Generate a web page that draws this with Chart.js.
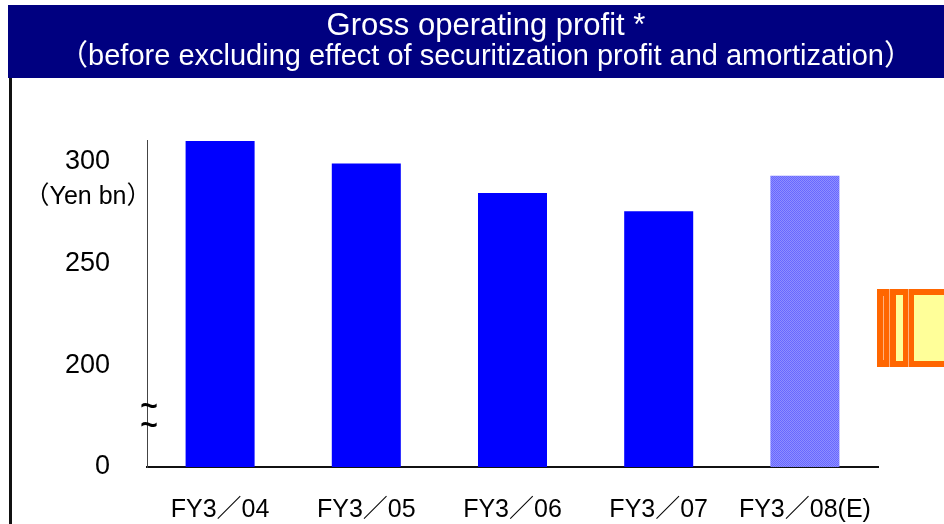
<!DOCTYPE html>
<html><head><meta charset="utf-8">
<script src="https://cdn.jsdelivr.net/npm/chart.js@4.4.1/dist/chart.umd.min.js"></script>
<style>html,body{margin:0;padding:0;background:#fff;overflow:hidden}#wrap{width:944px;height:524px;position:relative}</style>
</head><body><div id="wrap"><canvas id="c" width="944" height="524"></canvas></div>
<script>
const categories = ['FY3／04', 'FY3／05', 'FY3／06', 'FY3／07', 'FY3／08(E)'];
const grossProfit = [310, 299, 284.5, 275.5, 293];
const estimateFlags = [false, false, false, false, true];
const yTickValues = [150, 200, 250, 300];
const yTickLabels = ['0', '200', '250', '300'];
const titleText = 'Gross operating profit *';
const subtitleText = '（before excluding effect of securitization profit and amortization）';
const unitLabel = '（Yen bn）';

const FAMILY = "'Liberation Sans', Arial, 'Noto Sans CJK JP', sans-serif";

function makePattern() {
  const p = document.createElement('canvas');
  p.width = 4; p.height = 4;
  const g = p.getContext('2d');
  g.fillStyle = '#8e8eff'; g.fillRect(0, 0, 4, 4);
  g.fillStyle = '#6868ff';
  for (let i = 0; i < 4; i++) { g.fillRect(i, i, 1, 1); g.fillRect((i + 2) % 4, i, 1, 1); }
  return g.createPattern(p, 'repeat');
}
const estPattern = makePattern();

const decor = {
  id: 'decor',
  beforeDraw(chart) {
    const c = chart.ctx;
    c.save();
    c.fillStyle = '#ffffff'; c.fillRect(0, 0, chart.width, chart.height);
    c.fillStyle = '#000080'; c.fillRect(8, 5, chart.width - 8, 73);
    c.restore();
  },
  afterDraw(chart) {
    const c = chart.ctx;
    const y = chart.scales.y, x = chart.scales.x;
    c.save();
    // left frame line
    c.fillStyle = '#111'; c.fillRect(9, 78, 3, chart.height - 78);
    // unit label
    c.fillStyle = '#000'; c.font = '25px ' + FAMILY;
    c.textAlign = 'center'; c.textBaseline = 'middle';
    c.fillText(unitLabel, 88, y.getPixelForValue(300) + 36);
    // axis break marks
    c.font = 'bold 30px ' + FAMILY;
    c.fillText('~', x.left + 2, y.getPixelForValue(179));
    c.fillText('~', x.left + 2, y.getPixelForValue(170));
    // orange decoration at right edge
    c.fillStyle = '#ff6600'; c.fillRect(877, 289, 67, 78);
    c.fillStyle = '#ffb27f';
    c.fillRect(883, 296, 1, 64);
    c.fillRect(889, 289, 1, 78);
    c.fillRect(908, 289, 1, 78);
    c.fillStyle = '#ffff99';
    c.fillRect(896, 295, 7, 66);
    c.fillRect(914, 295, 30, 66);
    c.restore();
  }
};

new Chart(document.getElementById('c'), {
  type: 'bar',
  data: {
    labels: categories,
    datasets: [{
      data: grossProfit,
      backgroundColor: ctx => estimateFlags[ctx.dataIndex] ? estPattern : '#0000ff',
      borderWidth: 0,
      barPercentage: 0.472,
      categoryPercentage: 1
    }]
  },
  options: {
    responsive: false,
    animation: false,
    devicePixelRatio: 1,
    layout: { padding: { left: 28, right: 0, top: 5, bottom: 0 } },
    plugins: {
      legend: { display: false },
      tooltip: { enabled: false },
      title: {
        display: true, text: titleText, color: '#ffffff',
        font: { family: FAMILY, size: 31, weight: 'normal', lineHeight: 1.0 },
        padding: { top: 6, bottom: 0 }
      },
      subtitle: {
        display: true, text: subtitleText, color: '#ffffff',
        font: { family: FAMILY, size: 29, weight: 'normal', lineHeight: 1.0 },
        padding: { top: 0, bottom: 69 }
      }
    },
    scales: {
      x: {
        afterFit: s => { s.height = 57; },
        grid: { display: false, drawTicks: false },
        border: { display: true, color: '#111', width: 2 },
        ticks: { padding: 28, color: '#000', maxRotation: 0, autoSkip: false,
          font: { family: FAMILY, size: 25 } }
      },
      y: {
        type: 'linear', min: 150, max: 310.5,
        afterBuildTicks: s => { s.ticks = yTickValues.map(v => ({ value: v })); },
        afterFit: s => { s.width = 119; },
        grid: { display: false, drawTicks: false },
        border: { display: true, color: '#444', width: 1 },
        ticks: { padding: 37, color: '#000', font: { family: FAMILY, size: 27 },
          callback: (v, i) => yTickLabels[i] }
      },
      yR: {
        type: 'linear', position: 'right', display: true,
        afterFit: s => { s.width = 66; },
        grid: { display: false, drawTicks: false },
        border: { display: false },
        ticks: { display: false }
      }
    }
  },
  plugins: [decor]
});
</script></body></html>
